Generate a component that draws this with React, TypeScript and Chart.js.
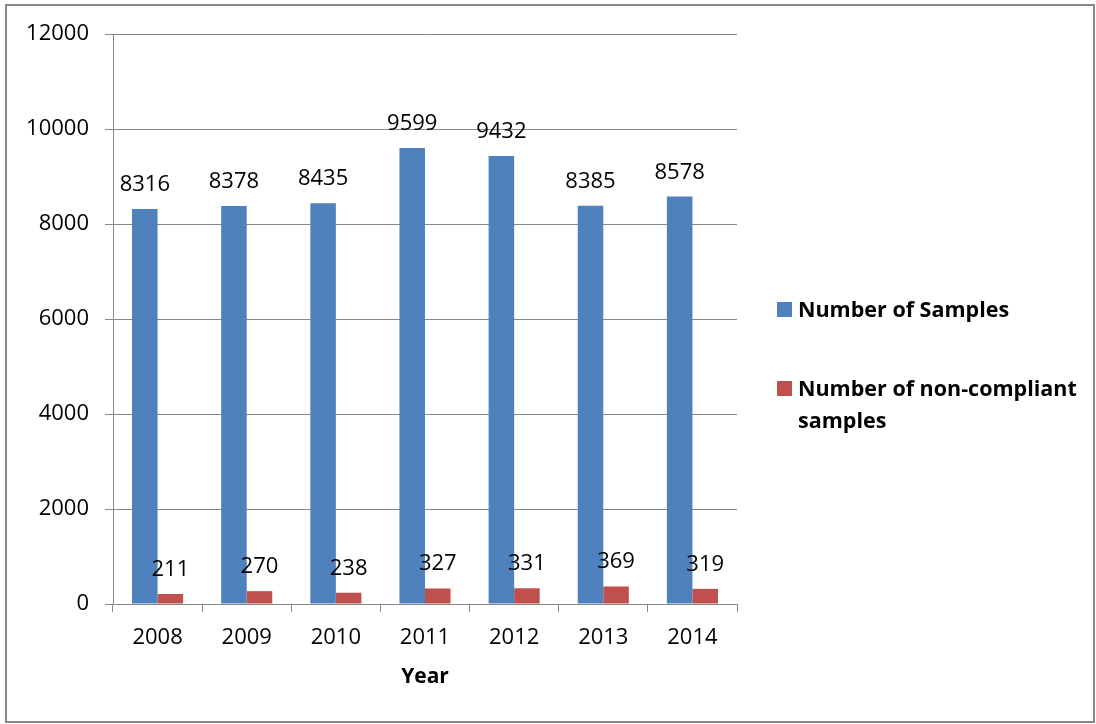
import React, { useEffect, useRef } from "react";
import { Chart, registerables } from "chart.js";

Chart.register(...registerables);

const years = ["2008", "2009", "2010", "2011", "2012", "2013", "2014"];
const samples = [8316, 8378, 8435, 9599, 9432, 8385, 8578];
const nonCompliant = [211, 270, 238, 327, 331, 369, 319];
const seriesNames = ["Number of Samples", "Number of non-compliant samples"];
const legendLines = [["Number of Samples"], ["Number of non-compliant", "samples"]];
const colors = ["#4F81BD", "#C0504D"];
const axisTitle = "Year";

const FONT = "'Open Sans', 'Liberation Sans', sans-serif";
const GRID = "#888888";

const labelPlugin = {
  id: "valueLabels",
  afterDatasetsDraw(chart: any) {
    const ctx = chart.ctx;
    ctx.save();
    ctx.font = `22px ${FONT}`;
    ctx.fillStyle = "#000";
    ctx.textAlign = "center";
    ctx.textBaseline = "alphabetic";
    chart.data.datasets.forEach((ds: any, di: number) => {
      const meta = chart.getDatasetMeta(di);
      meta.data.forEach((el: any, i: number) => {
        ctx.fillText(String(ds.data[i]), el.x, el.y - 18);
      });
    });
    ctx.restore();
  },
};

const legendPlugin = {
  id: "sideLegend",
  afterDraw(chart: any) {
    const ctx = chart.ctx;
    ctx.save();
    const boxX = 777;
    const boxTops = [302, 381];
    ctx.font = `bold 21.5px ${FONT}`;
    ctx.textAlign = "left";
    ctx.textBaseline = "alphabetic";
    legendLines.forEach((lines, i) => {
      ctx.fillStyle = colors[i];
      ctx.fillRect(boxX, boxTops[i], 15, 15);
      ctx.fillStyle = "#000";
      lines.forEach((line, j) => {
        ctx.fillText(line, boxX + 21, boxTops[i] + 15 + j * 32);
      });
    });
    // outer border
    ctx.strokeStyle = "#888888";
    ctx.lineWidth = 2;
    ctx.strokeRect(6, 5, 1088, 717);
    ctx.restore();
  },
};

export default function App() {
  const ref = useRef<HTMLCanvasElement>(null);
  useEffect(() => {
    document.body.style.margin = "0";
    const chart = new Chart(ref.current!, {
      type: "bar",
      data: {
        labels: years,
        datasets: [
          { label: seriesNames[0], data: samples, backgroundColor: colors[0], barPercentage: 1, categoryPercentage: 0.573 },
          { label: seriesNames[1], data: nonCompliant, backgroundColor: colors[1], barPercentage: 1, categoryPercentage: 0.573 },
        ],
      },
      options: {
        animation: false,
        responsive: false,
        devicePixelRatio: 1,
        layout: { padding: { left: 0, right: 359, top: 34, bottom: 0 } },
        plugins: { legend: { display: false }, tooltip: { enabled: false } },
        scales: {
          x: {
            offset: true,
            grid: { offset: true, drawOnChartArea: false, drawTicks: true, tickLength: 8, color: GRID },
            border: { color: GRID, width: 1 },
            ticks: { color: "#000", font: { family: FONT, size: 22 }, padding: 13 },
            title: { display: true, text: axisTitle, color: "#000", font: { family: FONT, size: 21, weight: "bold" }, padding: { top: 0, bottom: 34 } },
            afterFit: (s: any) => { s.height = 120; },
          },
          y: {
            min: 0,
            max: 12000,
            ticks: { stepSize: 2000, color: "#000", font: { family: FONT, size: 22 }, padding: 16, callback: (v: any) => String(v) },
            grid: { color: GRID, tickLength: 8 },
            border: { color: GRID, width: 1 },
            afterFit: (s: any) => { s.width = 113; },
          },
        },
      },
      plugins: [labelPlugin, legendPlugin],
    });
    return () => chart.destroy();
  }, []);
  return (
    <div style={{ width: 1096, height: 724, background: "#fff" }}>
      <canvas ref={ref} width={1096} height={724} style={{ display: "block" }} />
    </div>
  );
}
